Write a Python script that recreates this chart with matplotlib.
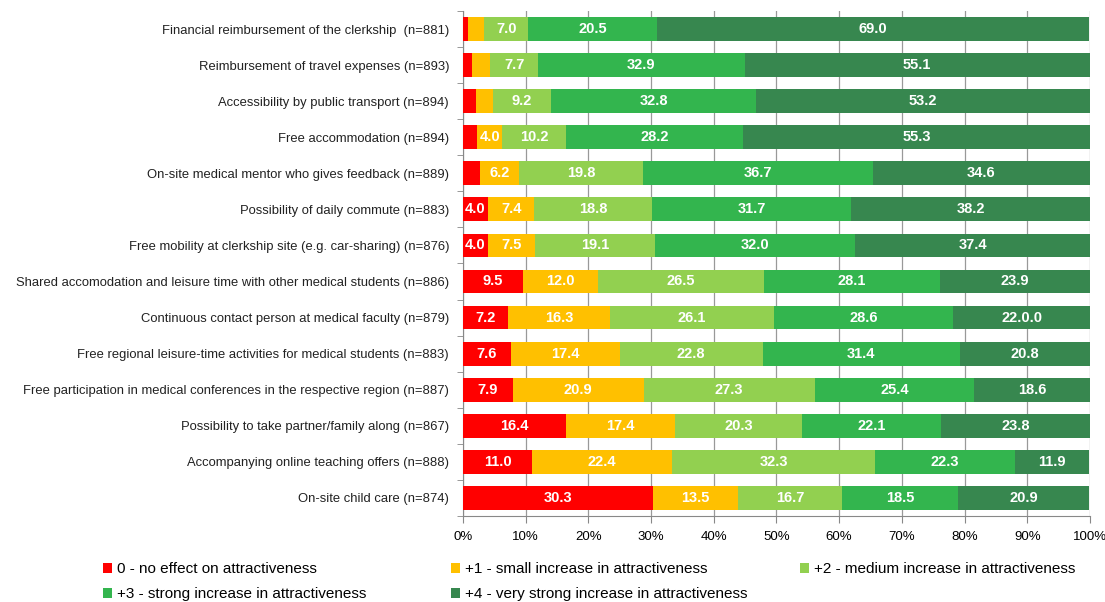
import numpy as np
import matplotlib
matplotlib.use("Agg")
import matplotlib.pyplot as plt

plt.rcParams["font.family"] = ["Liberation Sans", "DejaVu Sans"]

categories = [
    "Financial reimbursement of the clerkship  (n=881)",
    "Reimbursement of travel expenses (n=893)",
    "Accessibility by public transport (n=894)",
    "Free accommodation (n=894)",
    "On-site medical mentor who gives feedback (n=889)",
    "Possibility of daily commute (n=883)",
    "Free mobility at clerkship site (e.g. car-sharing) (n=876)",
    "Shared accomodation and leisure time with other medical students (n=886)",
    "Continuous contact person at medical faculty (n=879)",
    "Free regional leisure-time activities for medical students (n=883)",
    "Free participation in medical conferences in the respective region (n=887)",
    "Possibility to take partner/family along (n=867)",
    "Accompanying online teaching offers (n=888)",
    "On-site child care (n=874)",
]

no_effect = [0.8, 1.4, 2.1, 2.3, 2.7, 4.0, 4.0, 9.5, 7.2, 7.6, 7.9, 16.4, 11.0, 30.3]
small = [2.6, 2.9, 2.7, 4.0, 6.2, 7.4, 7.5, 12.0, 16.3, 17.4, 20.9, 17.4, 22.4, 13.5]
medium = [7.0, 7.7, 9.2, 10.2, 19.8, 18.8, 19.1, 26.5, 26.1, 22.8, 27.3, 20.3, 32.3, 16.7]
strong = [20.5, 32.9, 32.8, 28.2, 36.7, 31.7, 32.0, 28.1, 28.6, 31.4, 25.4, 22.1, 22.3, 18.5]
very_strong = [69.0, 55.1, 53.2, 55.3, 34.6, 38.2, 37.4, 23.9, 22.0, 20.8, 18.6, 23.8, 11.9, 20.9]

series_names = [
    "0 - no effect on attractiveness",
    "+1 - small increase in attractiveness",
    "+2 - medium increase in attractiveness",
    "+3 - strong increase in attractiveness",
    "+4 - very strong increase in attractiveness",
]
colors = ["#FF0000", "#FFC000", "#92D050", "#33B54E", "#37874F"]

series = [no_effect, small, medium, strong, very_strong]

fig = plt.figure(figsize=(11.05, 6.02), dpi=100)
ax = fig.add_axes([0.419, 0.143, 0.5674, 0.8387])

y = np.arange(len(categories))
left = np.zeros(len(categories))
handles = []
for name, vals, c in zip(series_names, series, colors):
    vals = np.array(vals)
    bars = ax.barh(y, vals, left=left, height=0.66, color=c, label=name, zorder=3)
    handles.append(bars)
    for i, (v, l) in enumerate(zip(vals, left)):
        if v >= 3.5:
            txt = f"{v:.1f}"
            # the reference shows this label with a doubled decimal
            if name.startswith("+4") and i == 8:
                txt = "22.0.0"
            ax.text(l + v / 2, i, txt, ha="center", va="center", color="white",
                    fontsize=10.5, fontweight="bold", zorder=4)
    left += vals

ax.set_xlim(0, 100)
ax.set_ylim(len(categories) - 0.5, -0.5)
ax.set_xticks(np.arange(0, 101, 10))
ax.set_xticklabels([f"{t}%" for t in range(0, 101, 10)], fontsize=9.5)
ax.set_yticks(y)
ax.set_yticklabels(categories, fontsize=9.4, color="#222222")
ax.set_yticks(np.arange(-0.5, len(categories), 1), minor=True)
ax.tick_params(axis="y", which="major", length=0, pad=10)
ax.tick_params(axis="y", which="minor", length=4, color="#888888")
ax.tick_params(axis="x", length=5, color="#888888", pad=6)
ax.grid(axis="x", color="#999999", linewidth=0.9, zorder=0)
for s in ["top", "right"]:
    ax.spines[s].set_visible(False)
ax.spines["left"].set_color("#888888")
ax.spines["bottom"].set_color("#888888")

# legend laid out row by row in three fixed-width columns
legend_cols = [[0, 3], [1, 4], [2]]
col_x = [0.093, 0.408, 0.724]
for idx, x0 in zip(legend_cols, col_x):
    fig.legend([handles[i] for i in idx], [series_names[i] for i in idx],
               loc="upper left", bbox_to_anchor=(x0, 0.066), borderpad=0,
               borderaxespad=0, frameon=False, fontsize=11,
               handlelength=0.6, handleheight=0.6, handletextpad=0.3,
               labelspacing=0.72)

fig.savefig("out.png", dpi=100)
